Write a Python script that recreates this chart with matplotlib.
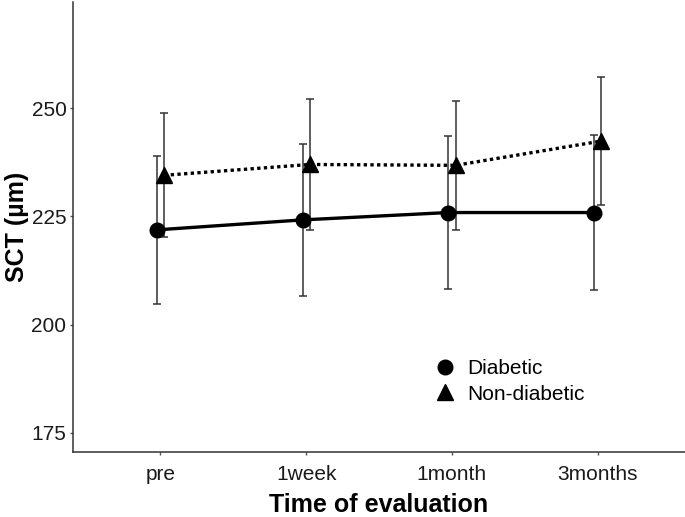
import matplotlib.pyplot as plt
import numpy as np

plt.rcParams['font.family'] = ['Liberation Sans', 'DejaVu Sans']

# Data
times = ['pre', '1week', '1month', '3months']
diabetic_mean = [221.9, 224.2, 225.9, 225.9]
diabetic_sd = [17.1, 17.5, 17.6, 18.0]
nondiab_mean = [234.5, 237.0, 236.8, 242.4]
nondiab_sd = [14.3, 15.2, 14.9, 14.8]

x = np.arange(1, len(times) + 1)
dodge = 0.025

fig = plt.figure(figsize=(6.85, 5.17), dpi=100)
ax = fig.add_axes([0.1066, 0.1257, 0.8934, 0.8703])

err_style = dict(fmt='none', ecolor='#333333', elinewidth=1.1, capsize=2.7, capthick=1.1)
ax.errorbar(x - dodge, diabetic_mean, yerr=diabetic_sd, **err_style)
ax.errorbar(x + dodge, nondiab_mean, yerr=nondiab_sd, **err_style)

ax.plot(x - dodge, diabetic_mean, color='black', lw=2.4, ls='-',
        marker='o', ms=10.5, label='Diabetic')
ax.plot(x + dodge, nondiab_mean, color='black', lw=2.4, ls=(0, (1, 1)),
        marker='^', ms=12, label='Non-diabetic')

ax.set_xlim(0.4, 4.6)
ax.set_ylim(170.6, 274.5)
ax.set_xticks(x)
ax.set_xticklabels(times)
ax.set_yticks([175, 200, 225, 250])

for side in ['top', 'right']:
    ax.spines[side].set_visible(False)
for side in ['left', 'bottom']:
    ax.spines[side].set_color('#333333')
    ax.spines[side].set_linewidth(1.1)
ax.tick_params(colors='#555555', length=2.2, width=1.0, labelsize=15, pad=2.5)
for lab in ax.get_xticklabels() + ax.get_yticklabels():
    lab.set_color('#1a1a1a')
ax.tick_params(axis='x', pad=7.5)

ax.set_xlabel('Time of evaluation', fontsize=18, fontweight='bold', labelpad=6)
ax.set_ylabel('SCT (µm)', fontsize=18, fontweight='bold', labelpad=2)

leg = ax.legend(loc='center left', bbox_to_anchor=(0.59, 0.157), frameon=False,
                fontsize=15, handlelength=1.0, handletextpad=0.6,
                labelspacing=0.32, borderaxespad=0, borderpad=0)
for h in leg.legend_handles:
    h.set_linestyle('none')

fig.savefig('out.png', dpi=100)
